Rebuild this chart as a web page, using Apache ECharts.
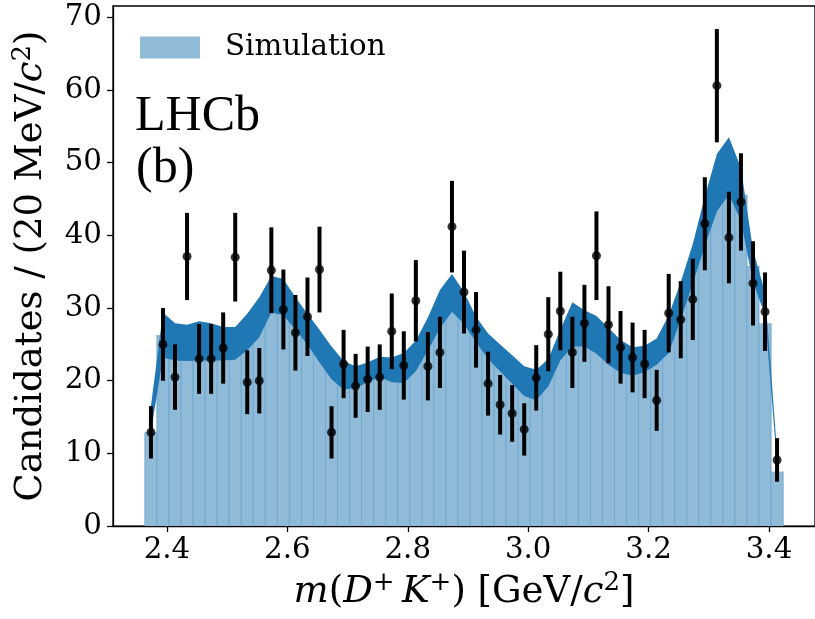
<!DOCTYPE html>
<html>
<head>
<meta charset="utf-8">
<script src="https://cdn.jsdelivr.net/npm/echarts@6/dist/echarts.min.js"></script>
<style>
html,body{margin:0;padding:0;background:#fff;}
#chart{width:815px;height:619px;}
</style>
</head>
<body>
<div id="chart"></div>
<script>
// ---- data ----
const binLow = 2.3634;      // first bin lower edge [GeV/c^2]
const binWidth = 0.02;      // 20 MeV/c^2
const dataVals = [12.9,25.0,20.5,37.1,23.0,23.0,24.5,37.0,19.8,20.0,35.2,29.8,26.6,28.8,35.3,12.9,22.3,19.3,20.2,20.5,26.8,22.1,31.0,22.0,23.9,41.2,32.2,27.0,19.6,16.7,15.5,13.3,20.4,26.4,29.6,23.9,27.9,37.2,27.7,24.6,23.2,22.3,17.3,29.3,28.4,31.2,41.6,60.6,39.7,44.6,33.4,29.5,9.1];
const dataErrs = [3.6,5.0,4.5,6.0,4.8,4.8,4.9,6.1,4.4,4.5,5.9,5.5,5.2,5.4,5.9,3.6,4.7,4.4,4.5,4.5,5.2,4.7,5.6,4.7,4.9,6.3,5.7,5.2,4.4,4.1,3.9,3.6,4.5,5.1,5.4,4.9,5.3,6.1,5.3,5.0,4.8,4.7,4.2,5.4,5.3,5.6,6.4,7.8,6.3,6.7,5.8,5.4,3.0];
const simVals = [12.9,26.3,25.3,25.2,25.5,25.3,25.1,25.1,26.7,28.7,31.9,31.5,29.2,27.1,24.7,22.4,20.7,20.5,21.1,21.9,21.5,21.7,23.4,26.4,29.8,32.1,30.0,27.0,24.7,23.1,21.5,19.9,19.4,21.1,24.9,27.7,27.2,26.3,24.7,23.3,22.6,23.0,24.0,26.4,31.0,36.1,41.9,47.2,49.5,45.6,35.8,27.9,7.5];
const bandLow = [13.0,23.2,22.8,22.7,22.8,22.8,22.8,22.9,24.2,26.0,29.4,29.0,27.0,25.0,22.5,20.2,18.8,19.0,19.8,20.5,19.8,19.7,21.3,24.2,27.2,29.5,27.8,25.3,23.0,21.3,19.6,17.9,17.3,19.2,22.8,24.7,24.7,23.7,22.2,21.1,20.7,21.2,22.2,23.8,28.4,33.4,38.5,43.3,45.6,42.0,33.6,29.0,8.5];
const bandHigh = [16.5,29.4,27.9,27.7,28.2,27.9,27.4,27.4,29.2,31.5,34.4,34.0,31.5,29.2,27.0,24.7,22.7,22.0,22.5,23.3,23.2,23.8,25.5,28.7,32.5,34.7,32.2,28.8,26.5,25.0,23.5,22.0,21.5,23.0,27.0,30.8,29.7,28.9,27.3,25.6,24.6,24.8,25.8,29.0,33.6,38.8,45.3,51.2,53.5,49.3,38.0,32.2,10.2];
const xTicks = [2.4, 2.6, 2.8, 3.0, 3.2, 3.4];
const yTicks = [0, 10, 20, 30, 40, 50, 60, 70];
const legendLabel = 'Simulation';

// ---- build ----
const centers = simVals.map((_, i) => binLow + binWidth * (i + 0.5));
const simData = simVals.map((v, i) => [centers[i], v]);
const bandData = bandLow.map((v, i) => [centers[i], v, bandHigh[i]]);
const ptData = dataVals.map((v, i) => [centers[i], v, dataErrs[i]]);

const FONT = 'DejaVu Serif';
const FS = 29.3;
const TFS = 37;
const richStyles = {
  n: {fontFamily: FONT, fontSize: TFS, lineHeight: 44, color: '#000'},
  i: {fontFamily: FONT, fontStyle: 'italic', fontSize: TFS, lineHeight: 44, color: '#000'},
  s: {fontFamily: FONT, fontSize: 26, lineHeight: 26, verticalAlign: 'top', color: '#000'}
};

const chart = echarts.init(document.getElementById('chart'), null, {renderer: 'canvas'});

chart.setOption({
  animation: false,
  backgroundColor: '#fff',
  textStyle: {fontFamily: FONT},
  grid: {left: 113, top: 6, width: 705, height: 526, show: true,
         borderColor: '#000', borderWidth: 1.3, backgroundColor: 'transparent'},
  legend: {
    data: [{name: legendLabel, icon: 'rect', itemStyle: {color: '#8fbbd9'}}],
    left: 140, top: 33, padding: 0, itemWidth: 60, itemHeight: 22,
    selectedMode: false,
    textStyle: {fontFamily: FONT, fontSize: FS, color: '#000', lineHeight: 22, padding: [0, 0, 0, 20]}
  },
  xAxis: {
    type: 'value', min: 2.3104, max: 3.4764,
    splitLine: {show: false},
    axisLine: {lineStyle: {color: '#000', width: 1.3}},
    axisTick: {show: true, length: 6, lineStyle: {color: '#000', width: 1.3}, customValues: xTicks},
    axisLabel: {fontFamily: FONT, fontSize: FS, color: '#000', margin: 10,
                customValues: xTicks, formatter: v => v.toFixed(1)},
    name: '{i|m}{n|(}{i|D}{s|+}{n|\u2009}{i|K}{s|+}{n|) [GeV/}{i|c}{s|2}{n|]}',
    nameLocation: 'middle', nameGap: 28,
    nameTextStyle: {fontFamily: FONT, fontSize: TFS, color: '#000', lineHeight: 44, rich: richStyles}
  },
  yAxis: {
    type: 'value', min: 0, max: 71.56,
    splitLine: {show: false},
    axisLine: {show: true, lineStyle: {color: '#000', width: 1.3}},
    axisTick: {show: true, length: 6, lineStyle: {color: '#000', width: 1.3}, customValues: yTicks},
    axisLabel: {fontFamily: FONT, fontSize: FS, color: '#000', margin: 11,
                customValues: yTicks},
    name: '{n|Candidates / (20 MeV/}{i|c}{s|2}{n|)}',
    nameLocation: 'middle', nameGap: 52,
    nameTextStyle: {fontFamily: FONT, fontSize: TFS, color: '#000', lineHeight: 44, rich: richStyles}
  },
  graphic: [
    {type: 'text', left: 135, top: 92, z: 10,
     style: {text: 'LHCb', font: '50px "Liberation Serif"', fill: '#000'}},
    {type: 'text', left: 136, top: 144, z: 10,
     style: {text: '(b)', font: '50px "Liberation Serif"', fill: '#000'}}
  ],
  series: [
    {
      name: legendLabel, type: 'custom', z: 1,
      itemStyle: {color: '#8fbbd9'},
      data: simData,
      renderItem: function (params, api) {
        const c = api.value(0), v = api.value(1);
        const p0 = api.coord([c - binWidth / 2, v]);
        const p1 = api.coord([c + binWidth / 2, 0]);
        return {
          type: 'group',
          children: [
            {type: 'rect', shape: {x: p0[0], y: p0[1], width: p1[0] - p0[0], height: p1[1] - p0[1]},
             style: {fill: '#8fbbd9'}},
            {type: 'line', shape: {x1: p0[0], y1: p0[1], x2: p0[0], y2: p1[1]},
             style: {stroke: '#72a8d1', lineWidth: 1}},
            {type: 'line', shape: {x1: p1[0], y1: p0[1], x2: p1[0], y2: p1[1]},
             style: {stroke: '#72a8d1', lineWidth: 1}}
          ]
        };
      }
    },
    {
      name: 'band', type: 'custom', z: 2,
      data: bandData,
      renderItem: function (params, api) {
        if (params.dataIndex !== 0) return null;
        const pts = [];
        for (let i = 0; i < bandData.length; i++) pts.push(api.coord([bandData[i][0], bandData[i][2]]));
        for (let i = bandData.length - 1; i >= 0; i--) pts.push(api.coord([bandData[i][0], bandData[i][1]]));
        return {type: 'polygon', shape: {points: pts}, style: {fill: '#1f77b4'}};
      }
    },
    {
      name: 'errors', type: 'custom', z: 3,
      data: ptData,
      renderItem: function (params, api) {
        const x = api.value(0), v = api.value(1), e = api.value(2);
        const a = api.coord([x, v - e]);
        const b = api.coord([x, v + e]);
        return {type: 'line', shape: {x1: a[0], y1: a[1], x2: b[0], y2: b[1]},
                style: {stroke: '#000', lineWidth: 4}};
      }
    },
    {
      name: 'Data', type: 'scatter', z: 4,
      symbol: 'circle', symbolSize: 9,
      itemStyle: {color: '#000'},
      data: ptData.map(d => [d[0], d[1]])
    }
  ]
});
</script>
</body>
</html>
